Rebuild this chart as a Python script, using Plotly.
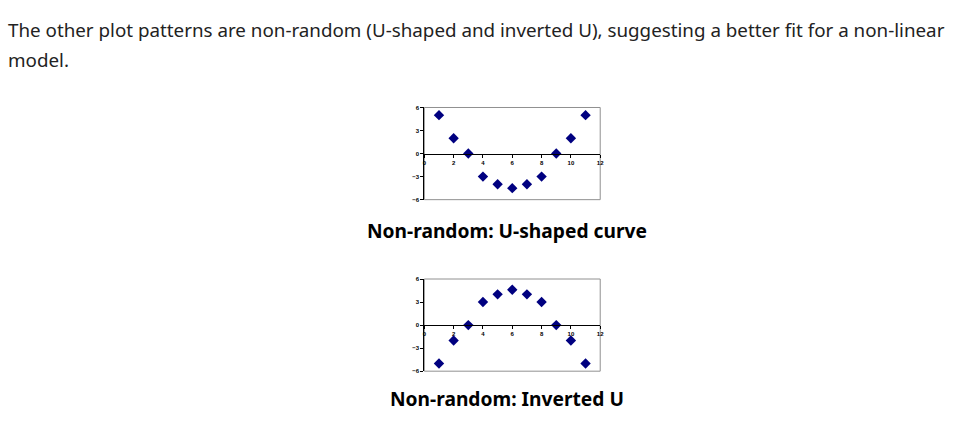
import plotly.graph_objects as go

x_vals = [1, 2, 3, 4, 5, 6, 7, 8, 9, 10, 11]
u_shaped = [5.0, 2.0, 0.0, -3.0, -4.0, -4.5, -4.0, -3.0, 0.0, 2.0, 5.0]
inverted_u = [-5.0, -2.0, 0.0, 3.0, 4.0, 4.6, 4.0, 3.0, 0.0, -2.0, -5.0]
x_ticks = [0, 2, 4, 6, 8, 10, 12]
y_ticks = [-6, -3, 0, 3, 6]

intro = "The other plot patterns are non-random (U-shaped and inverted U), suggesting a better fit for a non-linear"
intro2 = "model."
cap1 = "Non-random: U-shaped curve"
cap2 = "Non-random: Inverted U"

W, H = 954, 421
def px(v): return v / W
def py(v): return 1 - v / H

xdom = [px(425), px(602)]
ydom1 = [py(199.5), py(106)]
ydom2 = [py(373.5), py(280)]

fig = go.Figure()
marker = dict(symbol="diamond", size=8, color="#000080")
fig.add_trace(go.Scatter(x=x_vals, y=u_shaped, mode="markers", marker=marker, xaxis="x", yaxis="y", showlegend=False))
fig.add_trace(go.Scatter(x=x_vals, y=inverted_u, mode="markers", marker=marker, xaxis="x2", yaxis="y2", showlegend=False))

tickfont = dict(family="Liberation Sans", size=6, color="black", weight="bold")
common_x = dict(range=[0, 12], tickvals=x_ticks, showgrid=False, zeroline=False, showline=True,
                linecolor="black", linewidth=1, ticks="outside", ticklen=3, tickcolor="black",
                tickfont=tickfont, domain=xdom, fixedrange=True)
common_y = dict(range=[-6, 6], tickvals=y_ticks, showgrid=False, zeroline=False, showline=True,
                linecolor="black", linewidth=1, ticks="outside", ticklen=3, tickcolor="black",
                tickfont=tickfont, fixedrange=True)

fig.update_layout(
    width=W, height=H, margin=dict(l=0, r=0, t=0, b=0),
    paper_bgcolor="white", plot_bgcolor="white",
    xaxis=dict(common_x, anchor="free", position=(ydom1[0] + ydom1[1]) / 2),
    yaxis=dict(common_y, domain=ydom1, anchor="x"),
    xaxis2=dict(common_x, anchor="free", position=(ydom2[0] + ydom2[1]) / 2),
    yaxis2=dict(common_y, domain=ydom2, anchor="x2"),
)

for xr, yr in [("x domain", "y domain"), ("x2 domain", "y2 domain")]:
    fig.add_shape(type="rect", xref=xr, yref=yr, x0=0, x1=1, y0=0, y1=1,
                  line=dict(color="#909090", width=1), layer="below")

textfont = dict(family="Noto Sans", size=18.8, color="#222222")
fig.add_annotation(text=intro, x=px(4), y=py(27), xref="paper", yref="paper",
                   xanchor="left", yanchor="middle", showarrow=False, font=textfont)
fig.add_annotation(text=intro2, x=px(4), y=py(58), xref="paper", yref="paper",
                   xanchor="left", yanchor="middle", showarrow=False, font=textfont)
capfont = dict(family="Noto Sans", size=19.2, color="black", weight="bold")
fig.add_annotation(text=cap1, x=px(508), y=py(231), xref="paper", yref="paper",
                   xanchor="center", yanchor="middle", showarrow=False, font=capfont)
fig.add_annotation(text=cap2, x=px(508), y=py(401), xref="paper", yref="paper",
                   xanchor="center", yanchor="middle", showarrow=False, font=capfont)

fig.write_html("out.html")
